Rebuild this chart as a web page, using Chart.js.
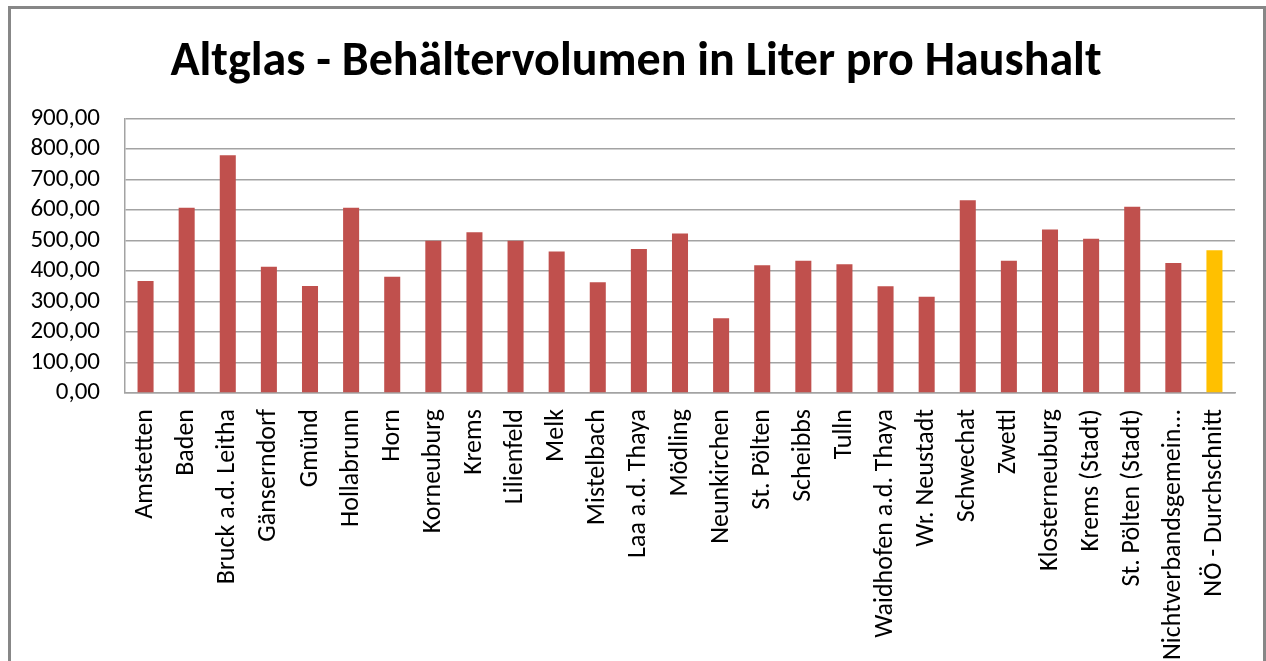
<!DOCTYPE html>
<html lang="de">
<head>
  <meta charset="UTF-8">
  <title>Altglas - Behältervolumen in Liter pro Haushalt</title>
  <script src="https://cdn.jsdelivr.net/npm/chart.js"></script>
  <style>
    body {
      margin: 0;
      background-color: #fff;
      width: 1266px;
      height: 661px;
      overflow: hidden;
      position: relative;
    }
    .frame {
      position: absolute;
      left: 8px;
      top: 6px;
      width: 1252px;
      height: 700px;
      border: 3px solid #878787;
      border-bottom: none;
    }
    canvas {
      position: absolute;
      left: 0;
      top: 0;
    }
  </style>
</head>
<body>
  <div class="frame"></div>
  <canvas id="chart" width="1266" height="661"></canvas>
  <script>
    const categories = [
      'Amstetten', 'Baden', 'Bruck a.d. Leitha', 'Gänserndorf', 'Gmünd', 'Hollabrunn', 'Horn',
      'Korneuburg', 'Krems', 'Lilienfeld', 'Melk', 'Mistelbach', 'Laa a.d. Thaya', 'Mödling',
      'Neunkirchen', 'St. Pölten', 'Scheibbs', 'Tulln', 'Waidhofen a.d. Thaya', 'Wr. Neustadt',
      'Schwechat', 'Zwettl', 'Klosterneuburg', 'Krems (Stadt)', 'St. Pölten (Stadt)',
      'Nichtverbandsgemein...', 'NÖ - Durchschnitt'
    ];
    const values = [
      367, 608, 780, 414, 351, 608, 381,
      499, 527, 499, 464, 363, 472, 523,
      245, 419, 434, 422, 350, 316,
      632, 434, 536, 506, 611,
      426, 468
    ];
    const yTicks = [0, 100, 200, 300, 400, 500, 600, 700, 800, 900];
    const averageLabel = 'NÖ - Durchschnitt';

    const red = '#C0504D';
    const gold = '#FFC000';
    const gridColor = '#a3a3a3';
    const fontFamily = "Carlito, Calibri, 'Open Sans', sans-serif";

    Chart.defaults.color = '#000';
    Chart.defaults.font.family = fontFamily;

    new Chart(document.getElementById('chart').getContext('2d'), {
      type: 'bar',
      data: {
        labels: categories,
        datasets: [{
          data: values,
          backgroundColor: ctx => categories[ctx.dataIndex] === averageLabel ? gold : red,
          borderWidth: 0,
          categoryPercentage: 1,
          barPercentage: 0.39
        }]
      },
      options: {
        responsive: false,
        devicePixelRatio: 1,
        animation: false,
        layout: { padding: { top: 0, right: 0, bottom: 0, left: 6 } },
        plugins: {
          legend: { display: false },
          tooltip: { enabled: false },
          title: {
            display: true,
            text: 'Altglas - Behältervolumen in Liter pro Haushalt',
            font: { size: 48, weight: 'bold', family: fontFamily },
            color: '#000',
            padding: { top: 34, bottom: 27 }
          }
        },
        scales: {
          x: {
            grid: { display: false, drawTicks: false },
            border: { display: true, color: gridColor, width: 1.5 },
            ticks: {
              autoSkip: false,
              maxRotation: 90,
              minRotation: 90,
              padding: 16,
              font: { size: 26 }
            },
            afterFit: scale => { scale.height = 268; }
          },
          y: {
            min: 0,
            max: 900,
            afterBuildTicks: scale => { scale.ticks = yTicks.map(v => ({ value: v })); },
            grid: { color: gridColor, lineWidth: 1.5, drawTicks: false },
            border: { display: true, color: gridColor, width: 1.5 },
            ticks: {
              autoSkip: false,
              padding: 25,
              font: { size: 25 },
              callback: v => v.toFixed(2).replace('.', ',')
            },
            afterFit: scale => { scale.width = 119; }
          },
          // empty right-hand axis keeps the plot clear of the frame while the title stays centred
          spacer: {
            type: 'linear',
            position: 'right',
            grid: { display: false, drawTicks: false },
            border: { display: false },
            ticks: { display: false },
            afterFit: scale => { scale.width = 31; }
          }
        }
      }
    });
  </script>
</body>
</html>
